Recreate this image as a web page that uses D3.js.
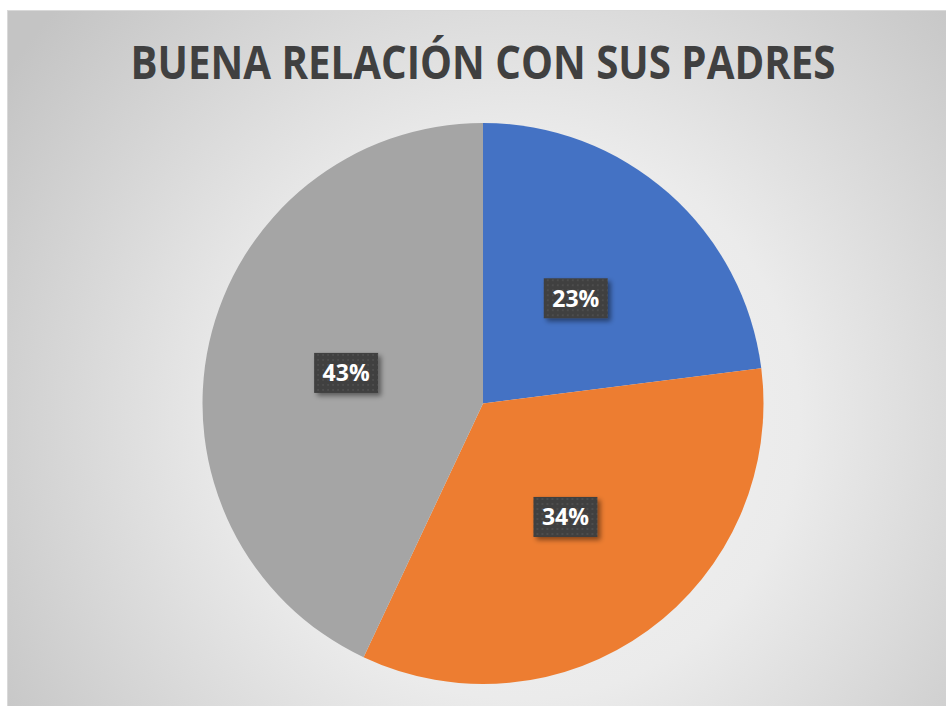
<!DOCTYPE html>
<html>
<head>
<meta charset="utf-8">
<script src="https://cdn.jsdelivr.net/npm/d3@7"></script>
<style>
  body { margin: 0; background: #ffffff; }
  svg { display: block; }
</style>
</head>
<body>
<div id="chart"></div>
<script>
// Datos
const categories = ["Sí", "A veces", "No"];
const values = [23, 34, 43];
const colors = ["#4472C4", "#ED7D31", "#A5A5A5"];
const title = "BUENA RELACIÓN CON SUS PADRES";

function createChart() {
    const W = 946, H = 706;
    const cx = 483, cy = 403.5, radius = 280.5;

    const svg = d3.select("#chart").append("svg")
        .attr("width", W)
        .attr("height", H);

    const defs = svg.append("defs");

    // Fondo degradado
    const grad = defs.append("radialGradient")
        .attr("id", "bg")
        .attr("gradientUnits", "userSpaceOnUse")
        .attr("cx", 520).attr("cy", 420).attr("r", 620);
    grad.append("stop").attr("offset", "0%").attr("stop-color", "#f4f4f4");
    grad.append("stop").attr("offset", "45%").attr("stop-color", "#ebebeb");
    grad.append("stop").attr("offset", "100%").attr("stop-color", "#c4c4c4");

    // Trama de puntos para las etiquetas
    const pat = defs.append("pattern")
        .attr("id", "dots")
        .attr("patternUnits", "userSpaceOnUse")
        .attr("width", 5).attr("height", 5);
    pat.append("rect").attr("width", 5).attr("height", 5).attr("fill", "#3f3f3f");
    pat.append("rect").attr("x", 1).attr("y", 1).attr("width", 2).attr("height", 2).attr("fill", "#4d4d4d");

    const shadow = defs.append("filter")
        .attr("id", "shadow")
        .attr("x", "-30%").attr("y", "-30%")
        .attr("width", "160%").attr("height", "160%");
    shadow.append("feDropShadow")
        .attr("dx", 3).attr("dy", 3)
        .attr("stdDeviation", 2.5)
        .attr("flood-color", "#000")
        .attr("flood-opacity", 0.45);

    svg.append("rect")
        .attr("x", 7.5).attr("y", 10.5)
        .attr("width", W).attr("height", H)
        .attr("fill", "url(#bg)")
        .attr("stroke", "#d9d9d9");

    // Título
    svg.append("text")
        .attr("x", 483)
        .attr("y", 79)
        .attr("text-anchor", "middle")
        .attr("font-family", "'Open Sans', sans-serif")
        .attr("font-weight", "bold")
        .attr("font-size", 46)
        .attr("fill", "#404040")
        .attr("textLength", 705)
        .attr("lengthAdjust", "spacingAndGlyphs")
        .text(title);

    const pie = d3.pie().sort(null).value(d => d);
    const arc = d3.arc().innerRadius(0).outerRadius(radius);

    const g = svg.append("g")
        .attr("transform", `translate(${cx},${cy})`);

    const arcs = pie(values);

    g.selectAll("path")
        .data(arcs)
        .enter().append("path")
        .attr("d", arc)
        .attr("fill", (d, i) => colors[i]);

    // Etiquetas
    const labels = g.selectAll(".label")
        .data(arcs)
        .enter().append("g")
        .attr("class", "label")
        .attr("transform", d => `translate(${arc.centroid(d)})`);

    labels.append("rect")
        .attr("x", -32).attr("y", -20)
        .attr("width", 64).attr("height", 40)
        .attr("fill", "url(#dots)")
        .attr("filter", "url(#shadow)");

    labels.append("text")
        .attr("text-anchor", "middle")
        .attr("dy", "0.36em")
        .attr("font-family", "'Open Sans', sans-serif")
        .attr("font-weight", "bold")
        .attr("font-size", 23)
        .attr("fill", "#ffffff")
        .text(d => d.value + "%");
}

createChart();
</script>
</body>
</html>
